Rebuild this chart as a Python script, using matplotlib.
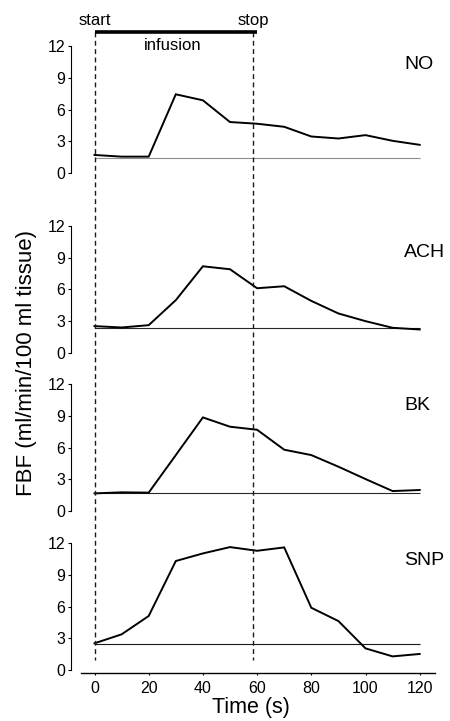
import matplotlib
matplotlib.use("Agg")
import matplotlib.pyplot as plt

plt.rcParams['font.family'] = ['Liberation Sans', 'DejaVu Sans']

# data
time_s = [0, 10, 20, 30, 40, 50, 60, 70, 80, 90, 100, 110, 120]
agents = ["NO", "ACH", "BK", "SNP"]
fbf_no = [1.71, 1.55, 1.55, 7.46, 6.89, 4.83, 4.67, 4.38, 3.46, 3.27, 3.59, 3.05, 2.67]
fbf_ach = [2.52, 2.39, 2.61, 4.98, 8.19, 7.91, 6.11, 6.30, 4.91, 3.72, 2.99, 2.36, 2.20]
fbf_bk = [1.67, 1.77, 1.74, 5.30, 8.87, 7.99, 7.70, 5.81, 5.30, 4.20, 3.03, 1.89, 1.99]
fbf_snp = [2.53, 3.38, 5.12, 10.33, 11.05, 11.65, 11.30, 11.62, 5.90, 4.64, 2.05, 1.29, 1.52]
baselines = [1.46, 2.30, 1.67, 2.46]
series = [fbf_no, fbf_ach, fbf_bk, fbf_snp]
infusion_start = 0
infusion_stop = 58.6
y_ticks = [0, 3, 6, 9, 12]
x_ticks = [0, 20, 40, 60, 80, 100, 120]

# layout in pixels
W, H = 450, 721
fig = plt.figure(figsize=(W / 100, H / 100), dpi=100)
x0_px = 94.5
px_per_s = 2.71
xlim = (-4.8, 125.5)
ylim = (-0.3, 12.6)
left = (x0_px + xlim[0] * px_per_s) / W
width = (xlim[1] - xlim[0]) * px_per_s / W
zero_px = [173, 352.7, 511, 670]
unit_px = 10.55
label_y = [10.3, 9.5, 10.0, 10.4]
base_colors = ['0.55', '0.15', '0.15', '0.1']

axes = []
for i, vals in enumerate(series):
    z = zero_px[i]
    bot = z - ylim[0] * unit_px
    top = z - ylim[1] * unit_px
    ax = fig.add_axes([left, 1 - bot / H, width, (bot - top) / H])
    ax.set_xlim(xlim)
    ax.set_ylim(ylim)
    ax.patch.set_alpha(0)
    ax.hlines(baselines[i], 0, 120, color=base_colors[i], lw=0.8)
    ax.plot(time_s, vals, color='black', lw=1.4, solid_joinstyle='miter')
    ax.text(114.3, label_y[i], agents[i], fontsize=14, va='center', ha='left')

    for s in ['top', 'right']:
        ax.spines[s].set_visible(False)
    ax.spines['left'].set_position(('outward', 7.9))
    ax.spines['left'].set_bounds(0, 12)
    ax.spines['left'].set_linewidth(0.8)
    ax.set_yticks(y_ticks)
    ax.tick_params(axis='y', length=2.5, width=0.8, pad=1.2, labelsize=11.5)
    if i < 3:
        ax.spines['bottom'].set_visible(False)
        ax.set_xticks([])
    else:
        ax.spines['bottom'].set_linewidth(1.0)
        ax.set_xticks(x_ticks)
        ax.tick_params(axis='x', length=1.5, width=0.8, pad=4.5, labelsize=11.5)
    axes.append(ax)

# overlay for the infusion markers
ov = fig.add_axes([left, 0, width, 1])
ov.set_xlim(xlim)
ov.set_ylim(H, 0)
ov.axis('off')
ov.vlines([infusion_start, infusion_stop], 32, 660, color='0.1', lw=1.0,
          linestyles=(0, (3.5, 2.5)))
ov.hlines(32, infusion_start, 60, color='black', lw=2.6)
ov.text(infusion_start, 25, "start", fontsize=12, ha='center', va='baseline')
ov.text(infusion_stop, 25, "stop", fontsize=12, ha='center', va='baseline')
ov.text(29, 46, "infusion", fontsize=12, ha='center', va='center')

fig.text(27 / W, 1 - 363 / H, "FBF (ml/min/100 ml tissue)", rotation=90,
         fontsize=16, ha='center', va='center')
fig.text(251 / W, 1 - 708 / H, "Time (s)", fontsize=15.5, ha='center', va='center')

fig.savefig("out.png", dpi=100)
